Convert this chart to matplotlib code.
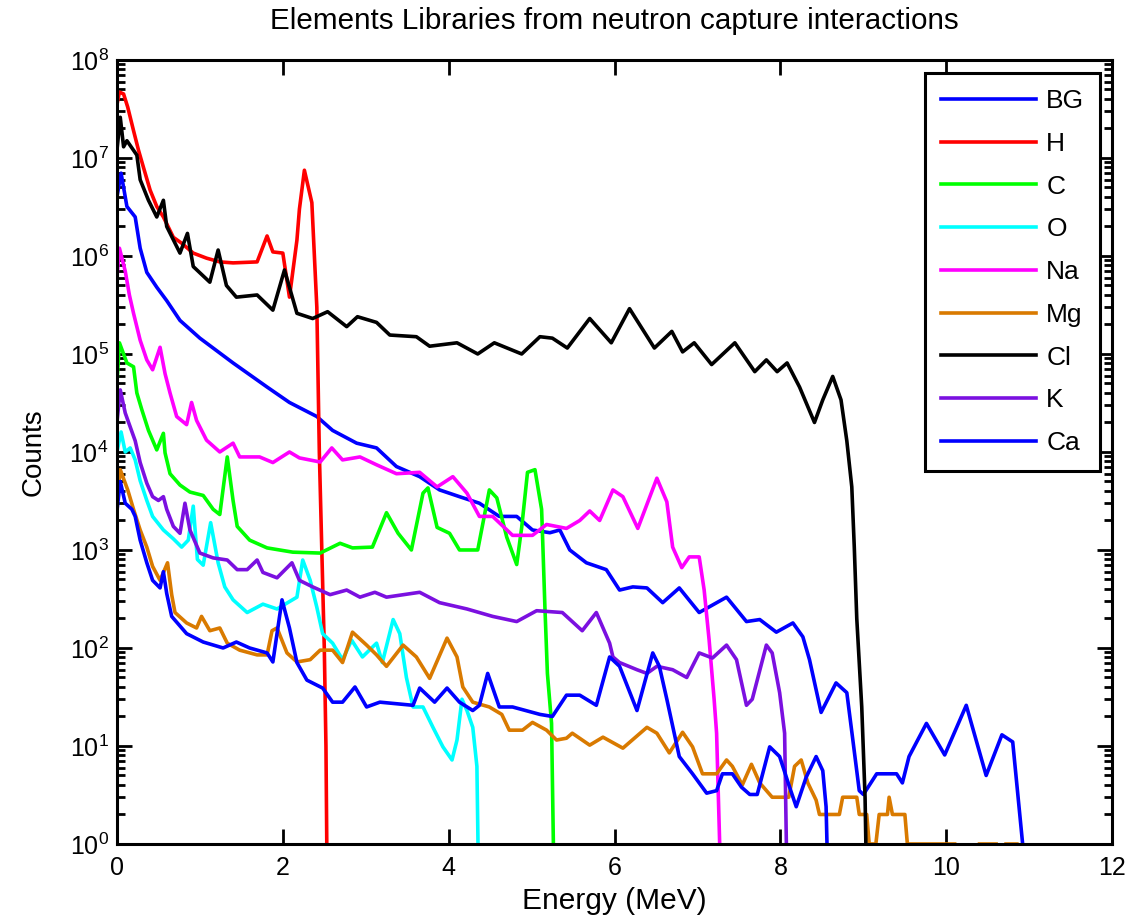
import numpy as np
import matplotlib
matplotlib.use('Agg')
import matplotlib.pyplot as plt

plt.rcParams['font.family'] = ['Liberation Sans', 'DejaVu Sans']
plt.rcParams['mathtext.fontset'] = 'custom'
plt.rcParams['mathtext.rm'] = 'Liberation Sans'
plt.rcParams['mathtext.it'] = 'Liberation Sans:italic'

nan = np.nan

# values (energy in MeV, counts)
bg_e = [0.0, 0.05, 0.12, 0.22, 0.28, 0.36, 0.48, 0.60, 0.76, 1.00, 1.40, 1.81, 2.08, 2.41, 2.60, 2.89,
        3.13, 3.37, 3.65, 3.89, 4.13, 4.37, 4.61, 4.82, 5.01, 5.22, 5.34, 5.46, 5.66, 5.90, 6.06, 6.22,
        6.39, 6.58, 6.78, 7.02, 7.35, 7.59, 7.75, 7.95, 8.15, 8.27, 8.35, 8.49, 8.67, 8.80, 8.87, 8.95,
        9.00, 9.16, 9.40, 9.47, 9.55, 9.76, 9.98, 10.24, 10.48, 10.67, 10.80, 10.92, 10.95]
bg_c = [4e6, 7e6, 3.2e6, 2.5e6, 1.2e6, 6.8e5, 4.8e5, 3.5e5, 2.2e5, 1.45e5, 8.1e4, 4.6e4, 3.2e4, 2.3e4, 1.66e4, 1.23e4,
        1.1e4, 7.1e3, 5.6e3, 4.1e3, 3.5e3, 3.0e3, 2.2e3, 2.2e3, 1.6e3, 1.5e3, 1.6e3, 1.0e3, 7.4e2, 6.3e2, 3.9e2, 4.2e2,
        4.1e2, 2.9e2, 4.1e2, 2.3e2, 3.3e2, 1.86e2, 1.95e2, 1.45e2, 1.8e2, 1.3e2, 7.6e1, 2.2e1, 4.4e1, 3.5e1, 1.2e1, 3.5,
        3.2, 5.2, 5.2, 4.2, 7.8, 17, 8.1, 26, 5.0, 13, 11, 1.0, 0.1]

h_e = [0.0, 0.03, 0.08, 0.13, 0.20, 0.26, 0.32, 0.40, 0.48, 0.56, 0.68, 0.78, 0.92, 1.08, 1.24, 1.40,
       1.69, 1.81, 1.88, 2.00, 2.08, 2.17, 2.20, 2.26, 2.35, 2.39, 2.41, 2.44, 2.47, 2.50, 2.52, 2.54]
h_c = [3.5e7, 4.7e7, 4.5e7, 3.3e7, 1.9e7, 1.2e7, 8e6, 4.7e6, 3.2e6, 2.5e6, 1.55e6, 1.35e6, 1.07e6, 9.5e5, 8.7e5, 8.5e5,
       8.7e5, 1.6e6, 1.1e6, 1.07e6, 3.8e5, 1.45e6, 3.0e6, 7.5e6, 3.5e6, 6.8e5, 3e5, 1e4, 1e3, 1e2, 1e1, 0.1]

c_e = [0.0, 0.03, 0.12, 0.20, 0.24, 0.30, 0.38, 0.48, 0.56, 0.58, 0.64, 0.76, 0.88, 1.04, 1.16, 1.24,
       1.33, 1.40, 1.45, 1.60, 1.81, 2.12, 2.45, 2.69, 2.84, 3.08, 3.25, 3.39, 3.55, 3.69, 3.75, 3.86,
       4.01, 4.13, 4.35, 4.49, 4.58, 4.70, 4.82, 4.88, 4.95, 5.04, 5.12, 5.13, 5.16, 5.19, 5.24, 5.28]
c_c = [5e4, 1.3e5, 8.1e4, 7.4e4, 4.0e4, 2.7e4, 1.66e4, 1.05e4, 1.55e4, 9.8e3, 6.0e3, 4.6e3, 3.9e3, 3.6e3, 2.6e3, 2.3e3,
       8.9e3, 3.2e3, 1.74e3, 1.26e3, 1.05e3, 9.5e2, 9.3e2, 1.17e3, 1.05e3, 1.07e3, 2.4e3, 1.48e3, 1.0e3, 3.8e3, 4.3e3, 1.7e3,
       1.48e3, 1.0e3, 1.0e3, 4.1e3, 3.4e3, 1.35e3, 7.1e2, 1.7e3, 6.2e3, 6.6e3, 2.6e3, 1.5e3, 2.6e2, 5.5e1, 1.7e1, 0.1]

o_e = [0.0, 0.05, 0.10, 0.16, 0.22, 0.28, 0.36, 0.43, 0.56, 0.68, 0.78, 0.86, 0.92, 0.97, 1.04, 1.13,
       1.22, 1.30, 1.40, 1.57, 1.76, 1.93, 2.17, 2.24, 2.33, 2.41, 2.48, 2.60, 2.72, 2.83, 2.96, 3.13,
       3.20, 3.33, 3.41, 3.49, 3.57, 3.69, 3.81, 3.93, 4.04, 4.10, 4.16, 4.22, 4.29, 4.34, 4.37]
o_c = [1e4, 1.6e4, 1.0e4, 1.1e4, 8.3e3, 5.1e3, 3.2e3, 2.2e3, 1.6e3, 1.3e3, 1.07e3, 1.26e3, 2.8e3, 8.0e2, 7.0e2, 1.9e3,
       7.4e2, 4.2e2, 3.1e2, 2.3e2, 2.8e2, 2.5e2, 3.3e2, 7.9e2, 4.9e2, 2.6e2, 1.4e2, 1.12e2, 7.6e1, 1.2e2, 8.1e1, 1.12e2,
       7.1e1, 1.95e2, 1.4e2, 5.0e1, 2.5e1, 2.5e1, 1.55e1, 9.8, 7.2, 1.15e1, 3.0e1, 2.3e1, 1.55e1, 6.2, 0.1]

na_e = [0.0, 0.03, 0.10, 0.15, 0.20, 0.28, 0.36, 0.43, 0.52, 0.58, 0.64, 0.72, 0.84, 0.90, 0.96, 1.08,
        1.24, 1.40, 1.48, 1.72, 1.88, 2.08, 2.20, 2.45, 2.59, 2.72, 2.93, 3.13, 3.37, 3.65, 3.86, 4.05,
        4.22, 4.37, 4.53, 4.77, 5.01, 5.18, 5.42, 5.58, 5.70, 5.82, 5.98, 6.10, 6.28, 6.51, 6.63, 6.70,
        6.81, 6.90, 7.02, 7.08, 7.14, 7.20, 7.23, 7.30]
na_c = [6e5, 1.2e6, 7e5, 4e5, 2.6e5, 1.38e5, 8.7e4, 6.9e4, 1.17e5, 6.3e4, 4.0e4, 2.3e4, 1.9e4, 3.2e4, 2.1e4, 1.32e4,
        1.0e4, 1.23e4, 8.9e3, 8.9e3, 7.8e3, 1.0e4, 8.7e3, 7.9e3, 1.1e4, 8.3e3, 8.9e3, 7.4e3, 6.0e3, 6.2e3, 4.4e3, 5.6e3,
        3.8e3, 2.2e3, 2.2e3, 1.41e3, 1.41e3, 1.82e3, 1.66e3, 2.0e3, 2.5e3, 2.0e3, 4.1e3, 3.5e3, 1.66e3, 5.4e3, 3.1e3, 1.07e3,
        6.6e2, 8.5e2, 8.5e2, 3.9e2, 1.2e2, 3.0e1, 1.35e1, 0.1]

mg_e = [0.0, 0.04, 0.13, 0.20, 0.28, 0.36, 0.43, 0.52, 0.61, 0.66, 0.70, 0.84, 0.96, 1.02, 1.12, 1.24,
        1.33, 1.48, 1.69, 1.81, 1.87, 1.93, 2.05, 2.17, 2.33, 2.45, 2.60, 2.72, 2.84, 3.01, 3.13, 3.25,
        3.45, 3.61, 3.77, 3.98, 4.10, 4.17, 4.29, 4.49, 4.64, 4.73, 4.89, 5.01, 5.18, 5.30, 5.42, 5.49,
        5.70, 5.86, 6.10, 6.39, 6.51, 6.66, 6.82, 6.94, 7.06, 7.23, 7.35, 7.42, 7.54, 7.65, 7.75, 7.90,
        8.10, 8.17, 8.25, 8.33, 8.43, 8.47, 8.71, 8.75, 8.92, 8.95, 9.04, 9.07, 9.15, 9.19, 9.29, 9.31,
        9.35, 9.50, 9.53, 10.10, 10.20, 10.40, 10.60, 10.65, 10.72, 10.85]
mg_c = [3e3, 6.6e3, 4.1e3, 2.6e3, 1.6e3, 1.07e3, 6.8e2, 4.9e2, 7.4e2, 3.5e2, 2.3e2, 1.8e2, 1.6e2, 2.1e2, 1.5e2, 1.6e2,
        1.12e2, 9.5e1, 8.5e1, 8.5e1, 1.5e2, 1.6e2, 8.9e1, 7.2e1, 7.6e1, 9.5e1, 9.5e1, 7.1e1, 1.45e2, 1.07e2, 8.5e1, 6.5e1,
        1.07e2, 8.1e1, 4.9e1, 1.26e2, 8.1e1, 4.0e1, 2.8e1, 2.5e1, 2.1e1, 1.45e1, 1.45e1, 1.74e1, 1.45e1, 1.15e1, 1.2e1, 1.35e1,
        1.02e1, 1.23e1, 9.5, 1.55e1, 1.35e1, 8.5, 1.38e1, 9.8, 5.2, 5.2, 7.2, 6.2, 4.0, 6.5, 4.2, 3.0,
        3.0, 6.2, 7.2, 4.2, 2.8, 2.0, 2.0, 3.0, 3.0, 2.0, 2.0, 1.0, 1.0, 2.0, 2.0, 3.0,
        2.0, 2.0, 1.0, 1.0, nan, 1.0, 1.0, nan, 1.0, 1.0]

cl_e = [0.0, 0.04, 0.08, 0.12, 0.24, 0.28, 0.38, 0.48, 0.56, 0.60, 0.76, 0.85, 0.92, 1.12, 1.22, 1.32,
        1.44, 1.69, 1.88, 2.02, 2.17, 2.36, 2.54, 2.77, 2.90, 3.13, 3.29, 3.61, 3.77, 4.10, 4.35, 4.55,
        4.88, 5.10, 5.25, 5.43, 5.70, 5.96, 6.18, 6.48, 6.69, 6.82, 6.96, 7.17, 7.45, 7.69, 7.83, 7.96,
        8.08, 8.23, 8.41, 8.51, 8.63, 8.73, 8.80, 8.86, 8.89, 8.92, 8.98, 9.02, 9.05]
cl_c = [1.2e7, 2.6e7, 1.3e7, 1.5e7, 1.07e7, 6.0e6, 3.7e6, 2.5e6, 3.7e6, 2.0e6, 1.07e6, 1.7e6, 7.8e5, 5.4e5, 1.15e6, 5.0e5,
        3.8e5, 4.0e5, 2.8e5, 7.2e5, 2.6e5, 2.3e5, 2.7e5, 1.9e5, 2.4e5, 2.1e5, 1.56e5, 1.5e5, 1.2e5, 1.3e5, 1.0e5, 1.3e5,
        1.0e5, 1.5e5, 1.45e5, 1.15e5, 2.3e5, 1.3e5, 2.9e5, 1.15e5, 1.7e5, 1.05e5, 1.3e5, 7.8e4, 1.3e5, 6.6e4, 8.7e4, 6.6e4,
        8.1e4, 4.6e4, 2.0e4, 3.4e4, 5.9e4, 3.4e4, 1.3e4, 4.4e3, 1.07e3, 2e2, 2.5e1, 3, 0.1]

k_e = [0.0, 0.04, 0.10, 0.16, 0.22, 0.28, 0.36, 0.43, 0.50, 0.56, 0.60, 0.68, 0.76, 0.82, 0.88, 1.00,
       1.16, 1.33, 1.45, 1.57, 1.69, 1.76, 1.93, 2.11, 2.20, 2.36, 2.57, 2.77, 2.93, 3.11, 3.25, 3.65,
       3.89, 4.22, 4.53, 4.82, 5.06, 5.37, 5.61, 5.78, 5.94, 5.98, 6.06, 6.27, 6.39, 6.51, 6.70, 6.87,
       7.02, 7.18, 7.35, 7.47, 7.59, 7.66, 7.83, 7.90, 7.99, 8.05, 8.09]
k_c = [2e4, 4.3e4, 2.5e4, 1.8e4, 1.3e4, 7.8e3, 4.8e3, 3.5e3, 3.2e3, 3.5e3, 2.6e3, 1.74e3, 1.48e3, 3.0e3, 1.6e3, 9.3e2,
       8.3e2, 7.9e2, 6.3e2, 6.3e2, 7.9e2, 5.9e2, 5.2e2, 7.4e2, 4.9e2, 4.2e2, 3.5e2, 3.9e2, 3.3e2, 3.7e2, 3.3e2, 3.7e2,
       2.9e2, 2.5e2, 2.1e2, 1.86e2, 2.4e2, 2.3e2, 1.5e2, 2.3e2, 1.12e2, 8.1e1, 7.1e1, 6.0e1, 5.5e1, 6.5e1, 6.0e1, 5.0e1,
       8.9e1, 7.9e1, 1.07e2, 7.6e1, 2.6e1, 3.0e1, 1.07e2, 8.9e1, 3.5e1, 1.35e1, 0.1]

ca_e = [0.0, 0.04, 0.10, 0.18, 0.22, 0.28, 0.36, 0.43, 0.52, 0.56, 0.60, 0.66, 0.84, 1.04, 1.28, 1.44,
        1.60, 1.81, 1.88, 1.99, 2.08, 2.17, 2.29, 2.48, 2.60, 2.72, 2.87, 3.01, 3.17, 3.57, 3.65, 3.83,
        3.98, 4.13, 4.29, 4.37, 4.47, 4.61, 4.77, 5.10, 5.25, 5.42, 5.58, 5.78, 5.94, 6.06, 6.27, 6.46,
        6.54, 6.63, 6.78, 6.94, 7.11, 7.23, 7.30, 7.42, 7.53, 7.63, 7.72, 7.87, 7.99, 8.11, 8.19, 8.31,
        8.43, 8.51, 8.55, 8.59]
ca_c = [2.5e3, 5e3, 3e3, 2.6e3, 2.2e3, 1.26e3, 7.4e2, 4.9e2, 4.1e2, 6.0e2, 3.6e2, 2.1e2, 1.4e2, 1.15e2, 1.0e2, 1.15e2,
        1.0e2, 8.9e1, 7.2e1, 3.1e2, 1.6e2, 7.1e1, 4.7e1, 3.9e1, 2.8e1, 2.8e1, 4.0e1, 2.5e1, 2.8e1, 2.6e1, 3.9e1, 2.8e1,
        3.9e1, 2.8e1, 2.3e1, 2.6e1, 5.5e1, 2.5e1, 2.5e1, 2.1e1, 2.0e1, 3.3e1, 3.3e1, 2.6e1, 8.1e1, 6.5e1, 2.3e1, 8.9e1,
        6.5e1, 3.0e1, 7.8, 5.2, 3.3, 3.5, 5.2, 5.2, 3.8, 3.2, 3.2, 9.8, 7.8, 3.8, 2.4, 4.8,
        7.8, 5.6, 2.4, 0.1]

names = ['BG', 'H', 'C', 'O', 'Na', 'Mg', 'Cl', 'K', 'Ca']
energies = [bg_e, h_e, c_e, o_e, na_e, mg_e, cl_e, k_e, ca_e]
counts = [bg_c, h_c, c_c, o_c, na_c, mg_c, cl_c, k_c, ca_c]
colors = ['#0000FF', '#FF0000', '#00FF00', '#00FFFF', '#FF00FF', '#D97A00', '#000000', '#7B10E0', '#0000FF']

fig = plt.figure(figsize=(11.31, 9.24), dpi=100)
ax = fig.add_axes([0.1034, 0.0866, 0.880, 0.8485])

for i in range(len(names)):
    ax.plot(energies[i], counts[i], color=colors[i], lw=2.6, label=names[i])

ax.set_yscale('log')
ax.set_xlim(0, 12)
ax.set_ylim(1, 1e8)
ax.set_xticks([0, 2, 4, 6, 8, 10, 12])
# only decades inside the view, so no stray labels below the axis
ax.set_yticks(10.0 ** np.arange(0, 9))
minors = [m * 10.0 ** d for d in range(0, 8) for m in range(2, 10)]
ax.set_yticks(minors, minor=True)
ax.set_yticklabels([], minor=True)
ax.tick_params(which='both', direction='in', top=True, right=True, width=2, labelsize=18)
ax.tick_params(which='major', length=11)
ax.tick_params(which='minor', length=6)
ax.tick_params(axis='x', pad=9)
ax.tick_params(axis='y', pad=6)
for s in ax.spines.values():
    s.set_linewidth(2.2)

ax.set_title('Elements Libraries from neutron capture interactions', fontsize=21.3, pad=22)
ax.set_xlabel('Energy (MeV)', fontsize=21.5, labelpad=5)
ax.set_ylabel('Counts', fontsize=20, labelpad=16)

leg = ax.legend(loc='upper right', bbox_to_anchor=(0.988, 0.983), borderaxespad=0,
                fontsize=19, handlelength=3.6, handletextpad=0.4, labelspacing=0.71,
                borderpad=0.6, fancybox=False, framealpha=1)
leg.get_frame().set_edgecolor('black')
leg.get_frame().set_linewidth(2.2)

fig.savefig('out.png', dpi=100)
